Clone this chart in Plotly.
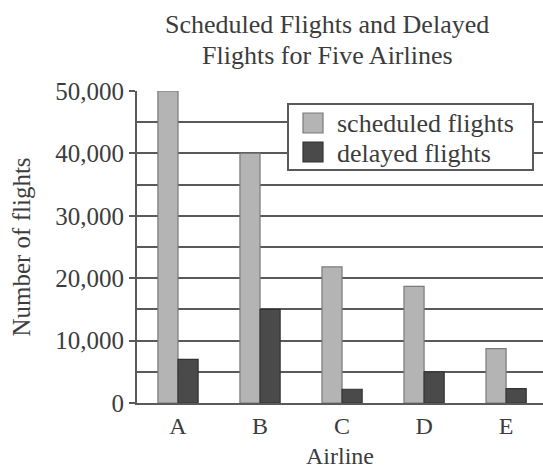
import plotly.graph_objects as go

# Flight counts per airline
airlines = ["A", "B", "C", "D", "E"]
scheduled = [50000, 40000, 21800, 18700, 8700]
delayed = [7000, 15000, 2200, 5000, 2300]

series_names = ["scheduled flights", "delayed flights"]
series_fill = ["#b4b4b4", "#4a4a4a"]
series_edge = ["#7a7a7a", "#333333"]

title_lines = ["Scheduled Flights and Delayed", "Flights for Five Airlines"]

y_ticks = [0, 10000, 20000, 30000, 40000, 50000]
y_tick_text = ["0", "10,000", "20,000", "30,000", "40,000", "50,000"]

FONT = "Liberation Serif"
TEXT = "#3c3c3c"
LINE = "#5a5a5a"

W, H = 543, 471
L, R, T, B = 137, 0, 91, 68
PW, PH = W - L - R, H - T - B


def px_x(x):
    return (x - L) / PW


def px_y(y):
    return (H - B - y) / PH


fig = go.Figure()
for vals, name, fill, edge in zip([scheduled, delayed], series_names, series_fill, series_edge):
    fig.add_trace(go.Bar(
        x=airlines, y=vals, name=name, showlegend=False,
        marker=dict(color=fill, line=dict(color=edge, width=1.2)),
    ))

# Title, two centred lines
annotations = []
for line, cy in zip(title_lines, [24, 56]):
    annotations.append(dict(
        text=line, xref="paper", yref="paper",
        x=px_x(327), y=px_y(cy), xanchor="center", yanchor="middle",
        showarrow=False, font=dict(family=FONT, size=26, color=TEXT),
    ))

# Boxed legend in the upper right of the plot
shapes = [dict(
    type="rect", xref="paper", yref="paper", layer="above",
    x0=px_x(288), x1=px_x(533), y0=px_y(170), y1=px_y(104),
    fillcolor="white", line=dict(color=LINE, width=2),
)]
for name, fill, edge, cy in zip(series_names, series_fill, series_edge, [123, 152]):
    shapes.append(dict(
        type="rect", xref="paper", yref="paper", layer="above",
        x0=px_x(303), x1=px_x(323), y0=px_y(cy + 10), y1=px_y(cy - 10),
        fillcolor=fill, line=dict(color=edge, width=1.2),
    ))
    annotations.append(dict(
        text=name, xref="paper", yref="paper",
        x=px_x(335), y=px_y(cy + 1), xanchor="left", yanchor="middle",
        showarrow=False, font=dict(family=FONT, size=26, color=TEXT),
    ))

fig.update_layout(
    width=W, height=H,
    margin=dict(l=L, r=R, t=T, b=B),
    paper_bgcolor="white", plot_bgcolor="white",
    barmode="group", bargap=0.51, bargroupgap=0,
    font=dict(family=FONT, color=TEXT, size=24),
    showlegend=False,
    annotations=annotations,
    shapes=shapes,
    xaxis=dict(
        type="category", range=[-0.5, 4.45],
        showline=True, linecolor=LINE, linewidth=2,
        ticks="", showgrid=False,
        tickfont=dict(family=FONT, size=24, color=TEXT),
        title=dict(text="Airline", standoff=9,
                   font=dict(family=FONT, size=24, color=TEXT)),
        fixedrange=True,
    ),
    yaxis=dict(
        range=[0, 50000],
        tickvals=y_ticks, ticktext=y_tick_text,
        ticks="outside", ticklen=6, tickwidth=2, tickcolor=LINE,
        showline=True, linecolor=LINE, linewidth=2,
        showgrid=True, gridcolor=LINE, gridwidth=2,
        minor=dict(dtick=5000, showgrid=True, gridcolor=LINE, gridwidth=2, ticks=""),
        zeroline=False,
        tickfont=dict(family=FONT, size=25, color=TEXT),
        title=dict(text="Number of flights", standoff=18,
                   font=dict(family=FONT, size=25, color=TEXT)),
        fixedrange=True,
    ),
)

fig.write_html("out.html")
